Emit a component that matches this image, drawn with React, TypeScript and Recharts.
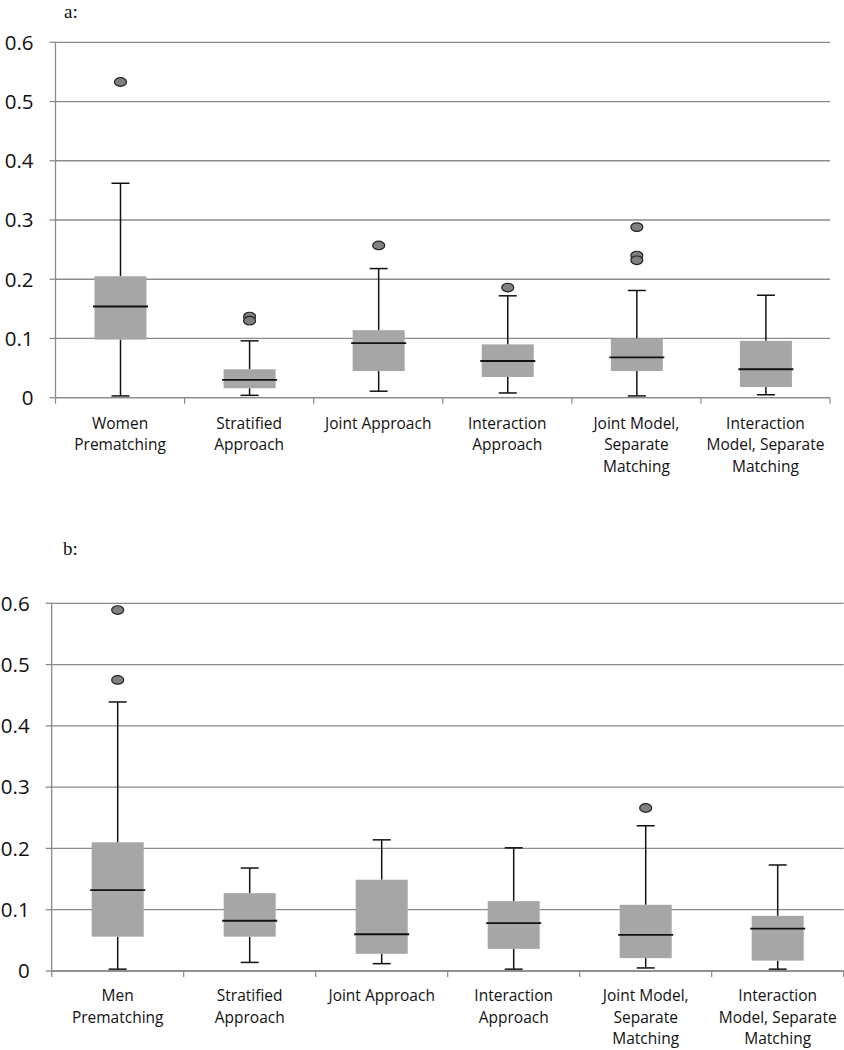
import { ComposedChart, Bar, XAxis, YAxis, CartesianGrid } from "recharts";

// panel a: women
const categoriesA = [
  "Women\nPrematching",
  "Stratified\nApproach",
  "Joint Approach",
  "Interaction\nApproach",
  "Joint Model,\nSeparate\nMatching",
  "Interaction\nModel, Separate\nMatching",
];
const minA = [0.003, 0.004, 0.011, 0.008, 0.003, 0.005];
const q1A = [0.098, 0.016, 0.045, 0.035, 0.045, 0.018];
const medA = [0.154, 0.03, 0.092, 0.062, 0.068, 0.048];
const q3A = [0.205, 0.048, 0.114, 0.09, 0.1, 0.096];
const maxA = [0.362, 0.096, 0.218, 0.172, 0.181, 0.173];
const outliersA = [[0.533], [0.137, 0.13], [0.257], [0.186], [0.288, 0.24, 0.232], []];

// panel b: men
const categoriesB = [
  "Men\nPrematching",
  "Stratified\nApproach",
  "Joint Approach",
  "Interaction\nApproach",
  "Joint Model,\nSeparate\nMatching",
  "Interaction\nModel, Separate\nMatching",
];
const minB = [0.003, 0.014, 0.012, 0.003, 0.005, 0.003];
const q1B = [0.056, 0.056, 0.028, 0.036, 0.021, 0.017];
const medB = [0.132, 0.082, 0.06, 0.078, 0.059, 0.069];
const q3B = [0.21, 0.127, 0.149, 0.114, 0.108, 0.09];
const maxB = [0.439, 0.168, 0.214, 0.201, 0.237, 0.173];
const outliersB = [[0.589, 0.475], [], [], [], [0.266], []];

const yTicks = [0, 0.1, 0.2, 0.3, 0.4, 0.5, 0.6];
const xTicks = [0, 0.5, 1, 1.5, 2, 2.5, 3, 3.5, 4, 4.5, 5, 5.5, 6];

const GRID = "#8a8a8a";
const BOX = "#a6a6a6";

const buildRows = (cats: string[], mn: number[], q1: number[], md: number[], q3: number[], mx: number[], out: number[][]) =>
  cats.map((name, i) => ({
    slot: i + 0.5,
    name,
    range: [mn[i], mx[i]],
    min: mn[i],
    q1: q1[i],
    med: md[i],
    q3: q3[i],
    max: mx[i],
    outliers: out[i],
  }));

const BoxShape = (props: any) => {
  const { x, y, width, height, payload } = props;
  const top = Math.min(y, y + height);
  const h = Math.abs(height);
  const per = h / (payload.max - payload.min);
  const toY = (v: number) => top + (payload.max - v) * per;
  const cx = x + width / 2;
  const cap = 9;
  return (
    <g>
      <line x1={cx} x2={cx} y1={toY(payload.max)} y2={toY(payload.q3)} stroke="#111" strokeWidth={1.5} />
      <line x1={cx} x2={cx} y1={toY(payload.q1)} y2={toY(payload.min)} stroke="#111" strokeWidth={1.5} />
      <line x1={cx - cap} x2={cx + cap} y1={toY(payload.max)} y2={toY(payload.max)} stroke="#111" strokeWidth={1.5} />
      <line x1={cx - cap} x2={cx + cap} y1={toY(payload.min)} y2={toY(payload.min)} stroke="#111" strokeWidth={1.5} />
      <rect x={x} y={toY(payload.q3)} width={width} height={toY(payload.q1) - toY(payload.q3)} fill={BOX} />
      <line x1={x - 1.5} x2={x + width + 1.5} y1={toY(payload.med)} y2={toY(payload.med)} stroke="#111" strokeWidth={1.8} />
      {payload.outliers.map((o: number, k: number) => (
        <ellipse key={k} cx={cx} cy={toY(o)} rx={6} ry={4.3} fill="#808080" stroke="#222" strokeWidth={1.2} />
      ))}
    </g>
  );
};

const makeXTick = (cats: string[], first: number, gap: number) => (props: any) => {
  const { x, y, payload } = props;
  const v = payload.value;
  if (Number.isInteger(v)) {
    return <line x1={x} x2={x} y1={y} y2={y + 6} stroke={GRID} strokeWidth={1.2} />;
  }
  const lines = cats[Math.floor(v)].split("\n");
  return (
    <g>
      {lines.map((ln, i) => (
        <text
          key={i}
          x={x}
          y={y + first + i * gap}
          textAnchor="middle"
          fontFamily="'Open Sans', sans-serif"
          fontSize={15.5}
          fill="#111"
        >
          {ln}
        </text>
      ))}
    </g>
  );
};

const fmt = (v: number) => (v === 0 ? "0" : v.toFixed(1));

const BoxPanel = ({ rows, cats, width, height, margin, yWidth, xHeight, first, gap }: any) => (
  <ComposedChart width={width} height={height} data={rows} margin={margin}>
    <CartesianGrid vertical={false} stroke={GRID} strokeWidth={1.3} />
    <XAxis
      type="number"
      dataKey="slot"
      domain={[0, 6]}
      ticks={xTicks}
      interval={0}
      tickLine={false}
      tickSize={0}
      tickMargin={0}
      height={xHeight}
      axisLine={{ stroke: GRID, strokeWidth: 1.3 }}
      tick={makeXTick(cats, first, gap)}
    />
    <YAxis
      type="number"
      domain={[0, 0.6]}
      ticks={yTicks}
      interval={0}
      width={yWidth}
      tickSize={6}
      tickMargin={16}
      tickFormatter={fmt}
      axisLine={{ stroke: GRID, strokeWidth: 1.3 }}
      tickLine={{ stroke: GRID, strokeWidth: 1.3 }}
      tick={{ fill: "#111", fontSize: 20.5, fontFamily: "'Open Sans', sans-serif" }}
    />
    <Bar dataKey="range" barSize={52} isAnimationActive={false} shape={(p: any) => <BoxShape {...p} />} />
  </ComposedChart>
);

const serif = "'Times New Roman', 'Liberation Serif', serif";

export default function App() {
  const rowsA = buildRows(categoriesA, minA, q1A, medA, q3A, maxA, outliersA);
  const rowsB = buildRows(categoriesB, minB, q1B, medB, q3B, maxB, outliersB);
  return (
    <div style={{ position: "absolute", left: 0, top: 0, width: 844, height: 1050, background: "#fff", overflow: "hidden" }}>
      <div style={{ position: "absolute", left: 0, top: 0 }}>
        <BoxPanel
          rows={rowsA}
          cats={categoriesA}
          width={844}
          height={480}
          margin={{ top: 42.3, right: 14, left: 0, bottom: 0 }}
          yWidth={55.5}
          xHeight={82.3}
          first={31}
          gap={21.5}
        />
      </div>
      <div style={{ position: "absolute", left: 0, top: 540 }}>
        <BoxPanel
          rows={rowsB}
          cats={categoriesB}
          width={844}
          height={510}
          margin={{ top: 63.3, right: 0.3, left: 0, bottom: 0 }}
          yWidth={51.7}
          xHeight={79}
          first={30}
          gap={21.5}
        />
      </div>
      <svg width={844} height={1050} style={{ position: "absolute", left: 0, top: 0, pointerEvents: "none" }}>
        <text x={64} y={17.5} fontFamily={serif} fontSize={19} fill="#111">a:</text>
        <text x={63} y={555} fontFamily={serif} fontSize={19} fill="#111">b:</text>
      </svg>
    </div>
  );
}
